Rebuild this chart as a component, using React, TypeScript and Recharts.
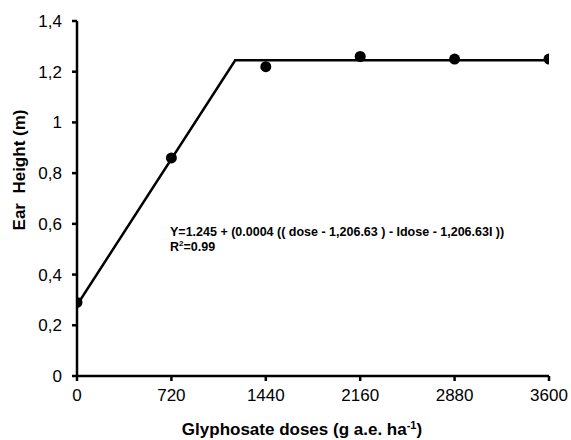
import React from "react";
import {
  ComposedChart,
  Line,
  Scatter,
  XAxis,
  YAxis,
} from "recharts";

// observed ear heights (m) per glyphosate dose
const doses = [0, 720, 1440, 2160, 2880, 3600];
const earHeight = [0.29, 0.86, 1.22, 1.26, 1.25, 1.25];

// fitted segmented model: breakpoint at 1206.63
const fitDoses = [0, 1206.63, 3600];
const fitHeight = [0.28, 1.245, 1.245];

const xTicks = [0, 720, 1440, 2160, 2880, 3600];
const yTicks = [0, 0.2, 0.4, 0.6, 0.8, 1, 1.2, 1.4];

const observed = doses.map((d, i) => ({ dose: d, height: earHeight[i] }));
const fitted = fitDoses.map((d, i) => ({ dose: d, fit: fitHeight[i] }));

const FONT = "'Liberation Sans', Arial, sans-serif";

export default function App() {
  return (
    <div style={{ position: "absolute", left: 0, top: 0, width: 571, height: 440, background: "#fff", fontFamily: FONT }}>
      <ComposedChart
        width={571}
        height={440}
        margin={{ top: 21, right: 22, left: 0, bottom: 0 }}
      >
        <XAxis
          dataKey="dose"
          type="number"
          domain={[0, 3600]}
          ticks={xTicks}
          allowDataOverflow
          height={64}
          stroke="#000"
          strokeWidth={2.5}
          tickSize={5}
          tickMargin={8}
          tick={{ fill: "#000", fontSize: 17, fontFamily: FONT }}
          label={() => (
            <text
              x={302}
              y={435}
              textAnchor="middle"
              fontFamily={FONT}
              fontWeight="bold"
              fontSize={17}
              fill="#000"
            >
              Glyphosate doses (g a.e. ha
              <tspan dy={-6} fontSize={11}>-1</tspan>
              <tspan dy={6}>)</tspan>
            </text>
          )}
        />
        <YAxis
          type="number"
          domain={[0, 1.4]}
          ticks={yTicks}
          width={77}
          stroke="#000"
          strokeWidth={2.5}
          tickSize={5}
          tickMargin={10}
          tick={{ fill: "#000", fontSize: 17, fontFamily: FONT }}
          tickFormatter={(v: number) => String(v).replace(".", ",")}
          label={() => (
            <text
              x={25}
              y={170}
              transform="rotate(-90, 25, 170)"
              textAnchor="middle"
              fontFamily={FONT}
              fontWeight="bold"
              fontSize={17}
              fill="#000"
              style={{ whiteSpace: "pre" }}
            >
              {"Ear  Height (m)"}
            </text>
          )}
        />
        <Line
          data={fitted}
          dataKey="fit"
          type="linear"
          stroke="#000"
          strokeWidth={2.5}
          dot={false}
          isAnimationActive={false}
        />
        <Scatter
          data={observed}
          dataKey="height"
          fill="#000"
          shape={(p: any) => <circle cx={p.cx} cy={p.cy} r={5.5} fill="#000" />}
          isAnimationActive={false}
        />
      </ComposedChart>
      <svg
        width={571}
        height={440}
        style={{ position: "absolute", left: 0, top: 0, pointerEvents: "none" }}
      >
        <text x={170} y={236} fontFamily={FONT} fontWeight="bold" fontSize={12.5} fill="#000">
          Y=1.245 + (0.0004 (( dose - 1,206.63 ) - Idose - 1,206.63I ))
        </text>
        <text x={170} y={251} fontFamily={FONT} fontWeight="bold" fontSize={12.5} fill="#000">
          R<tspan dy={-5} fontSize={8}>2</tspan>
          <tspan dy={5}>=0.99</tspan>
        </text>
      </svg>
    </div>
  );
}
